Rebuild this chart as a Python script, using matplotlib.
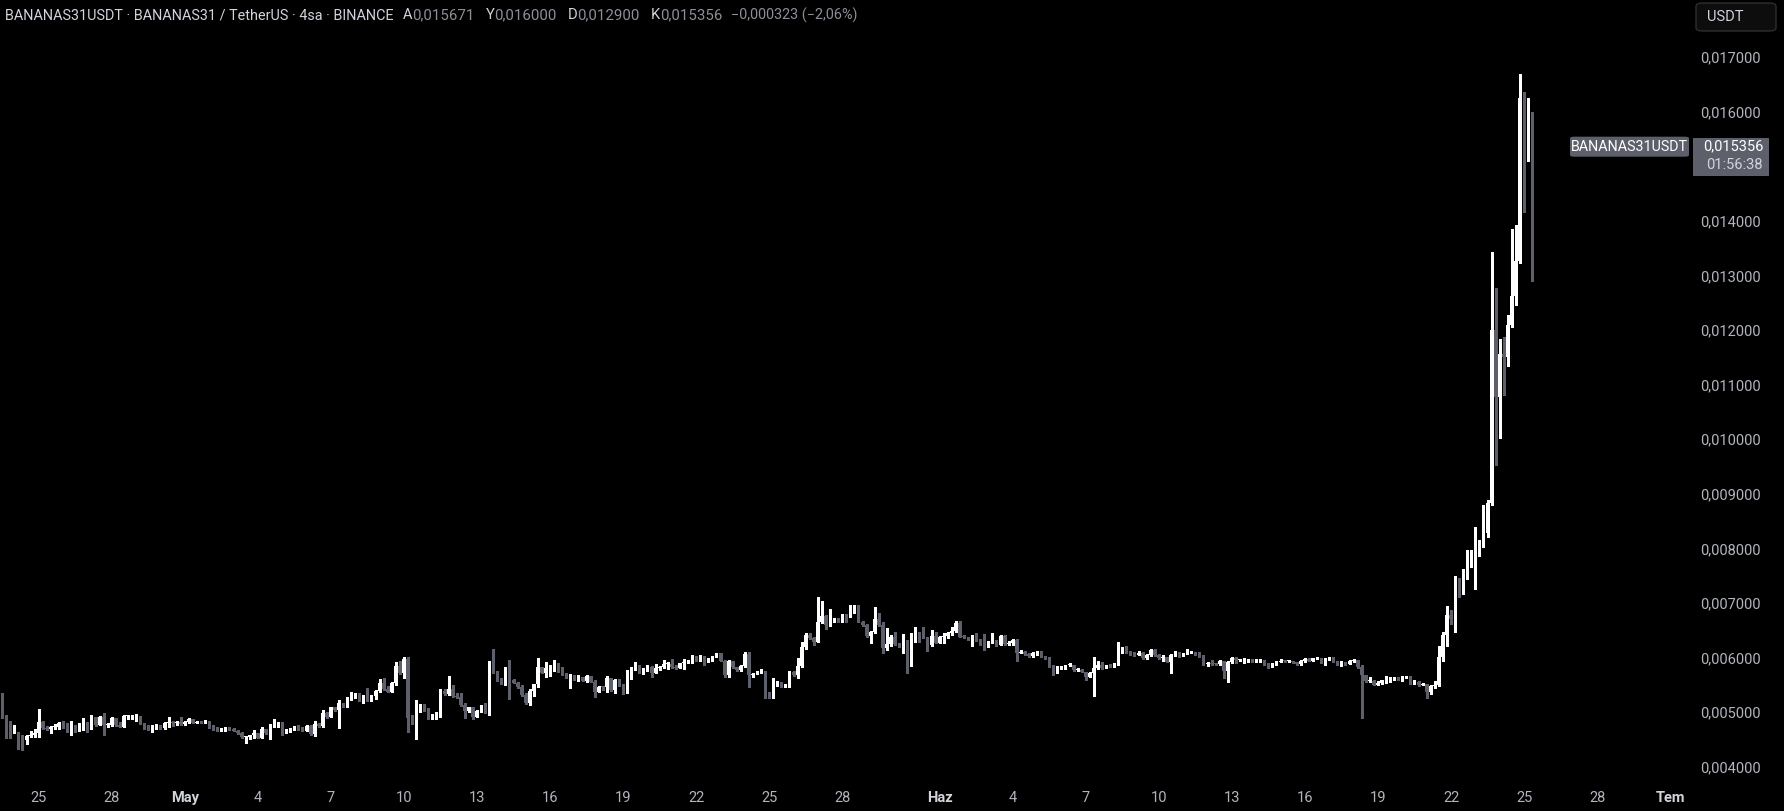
import numpy as np
import pandas as pd
import matplotlib
matplotlib.use("Agg")
import matplotlib.pyplot as plt
import matplotlib.dates as mdates
from matplotlib.patches import Rectangle, FancyBboxPatch

plt.rcParams['font.family'] = ['Roboto', 'DejaVu Sans']

# 4h candles, prices in millionths of USDT (4933 -> 0,004933)
start = "2025-04-23 12:00"
first_open = 5299

closes = [
    4933, 4830, 4628, 4628, 4543, 4494, 4567, 4585, 4628, 4817,
    4707, 4695, 4726, 4738, 4811, 4787, 4665, 4762, 4659, 4738,
    4811, 4707, 4909, 4768, 4909, 4768, 4768, 4890, 4768, 4738,
    4933, 4933, 4933, 4933, 4799, 4720, 4689, 4738, 4750, 4707,
    4811, 4811, 4799, 4830, 4781, 4830, 4872, 4811, 4830, 4823,
    4830, 4720, 4689, 4677, 4683, 4720, 4689, 4665, 4616, 4543,
    4543, 4585, 4616, 4537, 4689, 4616, 4768, 4787, 4799, 4616,
    4677, 4707, 4738, 4689, 4665, 4756, 4598, 4787, 4750, 4994,
    4921, 5092, 5043, 5165, 5116, 5275, 5318, 5348, 5226, 5257,
    5226, 5299, 5397, 5531, 5421, 5379, 5531, 5848, 5714, 5970,
    4890, 4799, 5043, 5134, 5043, 4890, 4909, 4970, 5397, 5336,
    5421,
    5299, 5275, 5134, 5031, 5092, 4921, 5031, 5116, 5104, 5885,
    5744, 5592, 5531, 5744, 5592, 5543, 5458, 5318, 5165, 5397,
    5513, 5824, 5726, 5806, 5836, 5836, 5806, 5702, 5641, 5677,
    5604, 5641, 5580, 5665, 5562, 5379, 5470, 5458, 5622, 5409,
    5592, 5500, 5348, 5622, 5793, 5848, 5726, 5806, 5836, 5714,
    5806, 5836, 5885, 5885, 5824, 5806, 5897, 5928, 5928, 6031,
    5946, 6031, 5946, 5958, 6019, 6080, 5946, 5684, 5946, 5824,
    5775, 5848, 6068, 5684, 5702, 5739, 5757, 5360, 5275, 5519,
    5562, 5470, 5482, 5744, 5684, 5848, 6190, 6416, 6355, 6294,
    6647, 6763, 6599, 6690, 6690, 6660, 6763, 6751, 6861, 6861,
    6660, 6599, 6397, 6477, 6708, 6599, 6172, 6251, 6373, 6251,
    6214,
    6312, 5909, 6312, 6458, 6397, 6367, 6233, 6397, 6275, 6385,
    6397, 6458, 6495, 6629, 6385, 6373, 6336, 6355, 6312, 6251,
    6214, 6294, 6312, 6233, 6397, 6251, 6263, 6324, 6092, 6110,
    6068, 6031, 6092, 6092, 6019, 5988, 5848, 5744, 5836, 5836,
    5860, 5867, 5775, 5775, 5744, 5641, 5726, 5806, 5867, 5806,
    5860, 5836, 5897, 6110, 6172, 6104, 6068, 6049, 6092, 5988,
    6049, 6141, 6049, 5988, 6007, 5928, 6049, 6110, 6031, 6080,
    6092, 6092, 6068, 6031, 5885, 5897, 5885, 5879, 5946, 5757,
    5928, 5988, 5958, 5958, 5958, 5970, 5928, 5946, 5946, 5885,
    5824, 5885, 5928, 5946, 5934, 5934, 5921, 5885, 5946, 5976,
    5946, 5988, 5988, 5909, 5976, 5982, 5928, 5885, 5909, 5885,
    5940,
    5952, 5829, 5675, 5567, 5567, 5505, 5544, 5583, 5606, 5621,
    5637, 5621, 5629, 5644, 5529, 5552, 5490, 5513, 5374, 5475,
    5490, 6014, 6415, 6785, 6708, 7293, 7185, 7478, 7786, 7878,
    7971, 8125, 8279, 8834, 12002, 10764, 11561, 11512, 12092, 12622,
    13263, 16241, 15357, 15671, 15356,
]

highs = [
    5348, 4951, 4848, 4768, 4646, 4585, 4585, 4659, 4695, 5061,
    4848, 4750, 4750, 4787, 4830, 4848, 4799, 4842, 4775, 4799,
    4890, 4830, 4951, 4909, 4933, 4982, 4811, 4909, 4890, 4823,
    4951, 4958, 4958, 4970, 4933, 4811, 4762, 4768, 4787, 4762,
    4823, 4909, 4848, 4842, 4915, 4848, 4890, 4884, 4848, 4836,
    4860, 4842, 4762, 4726, 4707, 4726, 4726, 4707, 4683, 4640,
    4567, 4592, 4677, 4622, 4738, 4701, 4787, 4878, 4830, 4823,
    4689, 4720, 4750, 4768, 4738, 4768, 4762, 4842, 4811, 5043,
    5006, 5104, 5104, 5226, 5177, 5287, 5379, 5360, 5360, 5318,
    5440, 5318, 5409, 5604, 5622, 5482, 5562, 5928, 5946, 6007,
    6007, 4951, 5226, 5153, 5147, 5086, 4964, 5000, 5421, 5421,
    5665,
    5500, 5360, 5360, 5165, 5104, 5104, 5043, 5128, 5177, 5946,
    6153, 5757, 5622, 5824, 5958, 5604, 5555, 5494, 5348, 5427,
    5525, 5988, 5836, 5928, 5867, 5958, 5909, 5824, 5726, 5702,
    5684, 5677, 5641, 5677, 5665, 5592, 5482, 5488, 5665, 5635,
    5604, 5604, 5519, 5775, 5836, 5921, 5860, 5818, 5867, 5848,
    5885, 5848, 5958, 5928, 5970, 5860, 5909, 5970, 5958, 6049,
    6031, 6049, 6031, 5988, 6031, 6092, 6080, 5958, 5958, 5946,
    5836, 5860, 6104, 6110, 5726, 5763, 5787, 5757, 5379, 5622,
    5580, 5562, 5519, 5757, 5757, 5988, 6294, 6458, 6458, 6385,
    7117, 7044, 6775, 6885, 6720, 6720, 6800, 6800, 6964, 6964,
    6964, 6672, 6611, 6489, 6922, 6824, 6660, 6538, 6416, 6477,
    6275,
    6434, 6324, 6458, 6568, 6470, 6568, 6385, 6507, 6477, 6397,
    6446, 6470, 6568, 6678, 6678, 6409, 6385, 6416, 6458, 6336,
    6434, 6306, 6458, 6324, 6409, 6409, 6312, 6336, 6336, 6141,
    6123, 6092, 6104, 6117, 6129, 6031, 6007, 5867, 5848, 5848,
    5873, 5909, 5873, 5812, 5787, 5744, 5739, 6019, 5946, 5928,
    5873, 5885, 5909, 6294, 6202, 6214, 6129, 6110, 6129, 6110,
    6062, 6153, 6153, 6068, 6049, 6019, 6062, 6123, 6110, 6092,
    6153, 6129, 6104, 6104, 6049, 5928, 5958, 5909, 5958, 5946,
    5940, 6007, 6007, 5982, 5988, 5982, 5976, 5976, 5970, 5958,
    5897, 5897, 5940, 5976, 5952, 5952, 5940, 5928, 5958, 5988,
    5988, 6001, 5995, 5995, 5988, 6007, 6019, 5940, 5934, 5921,
    5952,
    5975, 5960, 5867, 5675, 5644, 5583, 5567, 5590, 5667, 5637,
    5652, 5652, 5667, 5660, 5667, 5590, 5567, 5536, 5520, 5490,
    5567, 6222, 6468, 6938, 6877, 7494, 7466, 7632, 7979, 7979,
    8395, 8148, 8788, 8880, 13434, 12771, 11829, 11866, 12274, 13850,
    13924, 16687, 16363, 16241, 16000,
]

lows = [
    4890, 4524, 4524, 4616, 4329, 4311, 4421, 4543, 4543, 4555,
    4689, 4677, 4628, 4701, 4689, 4707, 4646, 4585, 4640, 4653,
    4677, 4634, 4695, 4750, 4762, 4585, 4738, 4750, 4750, 4726,
    4738, 4884, 4884, 4848, 4787, 4701, 4677, 4646, 4689, 4695,
    4695, 4726, 4750, 4762, 4768, 4768, 4811, 4799, 4799, 4805,
    4799, 4707, 4677, 4665, 4665, 4659, 4677, 4653, 4604, 4531,
    4433, 4512, 4531, 4524, 4524, 4604, 4506, 4726, 4738, 4592,
    4616, 4646, 4677, 4677, 4653, 4653, 4585, 4573, 4738, 4738,
    4890, 4909, 5031, 4720, 5104, 5104, 5226, 5263, 5214, 5165,
    5214, 5214, 5244, 5372, 5409, 5366, 5379, 5507, 5702, 5622,
    4646, 4787, 4506, 5012, 5031, 4878, 4872, 4872, 4921, 5324,
    5324,
    5287, 5257, 5122, 4903, 5006, 4878, 4921, 5006, 4994, 4951,
    5714, 5580, 5519, 5500, 5244, 5531, 5446, 5305, 5153, 5141,
    5299, 5470, 5714, 5641, 5665, 5757, 5732, 5690, 5629, 5440,
    5592, 5580, 5568, 5555, 5549, 5287, 5366, 5409, 5379, 5397,
    5360, 5488, 5336, 5348, 5604, 5775, 5714, 5702, 5751, 5653,
    5714, 5775, 5818, 5799, 5812, 5793, 5806, 5799, 5897, 5909,
    5934, 5946, 5867, 5928, 5946, 6007, 5934, 5641, 5641, 5812,
    5763, 5763, 5836, 5458, 5653, 5702, 5714, 5257, 5263, 5257,
    5488, 5458, 5458, 5470, 5671, 5629, 5824, 6153, 6342, 6232,
    6281, 6629, 6519, 6586, 6660, 6647, 6647, 6660, 6739, 6812,
    6647, 6586, 6385, 6263, 6458, 6586, 6080, 6141, 6220, 6239,
    6202,
    6092, 5726, 5848, 6294, 6294, 6355, 6129, 6220, 6263, 6263,
    6275, 6361, 6422, 6464, 6373, 6361, 6324, 6214, 6300, 6239,
    6141, 6202, 6263, 6220, 6227, 6239, 6233, 6239, 5946, 6080,
    6056, 6019, 6019, 6056, 6007, 5976, 5836, 5684, 5714, 5799,
    5799, 5848, 5763, 5763, 5732, 5592, 5641, 5299, 5787, 5793,
    5806, 5824, 5824, 5860, 6080, 6092, 6056, 6037, 6043, 5976,
    5976, 6037, 6037, 5976, 5946, 5915, 5726, 6031, 6019, 6031,
    6068, 6080, 6056, 6019, 5873, 5848, 5873, 5873, 5860, 5623,
    5562, 5897, 5909, 5934, 5909, 5921, 5921, 5921, 5928, 5873,
    5812, 5824, 5873, 5921, 5915, 5915, 5903, 5873, 5873, 5921,
    5934, 5940, 5982, 5897, 5867, 5958, 5915, 5873, 5848, 5873,
    5885,
    5929, 5814, 4890, 5551, 5551, 5490, 5498, 5521, 5544, 5551,
    5598, 5590, 5567, 5622, 5513, 5521, 5475, 5490, 5259, 5336,
    5452, 5475, 5937, 6222, 6607, 6476, 7108, 7170, 7432, 7663,
    7262, 7863, 8031, 8203, 8790, 9530, 10030, 10810, 11341, 12049,
    12457, 13234, 14168, 15101, 12900,
]

# 0,015000 sits under the last-price tag, so it is not listed
price_ticks = [0.004, 0.005, 0.006, 0.007, 0.008, 0.009, 0.010, 0.011,
               0.012, 0.013, 0.014, 0.016, 0.017]
date_ticks = ["2025-04-25", "2025-04-28", "2025-05-01", "2025-05-04", "2025-05-07",
              "2025-05-10", "2025-05-13", "2025-05-16", "2025-05-19", "2025-05-22",
              "2025-05-25", "2025-05-28", "2025-06-01", "2025-06-04", "2025-06-07",
              "2025-06-10", "2025-06-13", "2025-06-16", "2025-06-19", "2025-06-22",
              "2025-06-25", "2025-06-28", "2025-07-01"]
date_labels = ["25", "28", "May", "4", "7", "10", "13", "16", "19", "22", "25", "28",
               "Haz", "4", "7", "10", "13", "16", "19", "22", "25", "28", "Tem"]
month_labels = {"May", "Haz", "Tem"}

# (text, tone, font size, gap after in px)
header = [("BANANAS31USDT · BANANAS31 / TetherUS · 4sa · BINANCE", "light", 10.4, 9),
          ("A", "light", 10.6, 0), ("0,015671", "dim", 10.8, 11),
          ("Y", "light", 10.6, 0), ("0,016000", "dim", 10.8, 11),
          ("D", "light", 10.6, 0), ("0,012900", "dim", 10.8, 11),
          ("K", "light", 10.6, 0), ("0,015356", "dim", 10.8, 9),
          ("−0,000323 (−2,06%)", "dim", 10.4, 0)]
symbol = "BANANAS31USDT"
countdown = "01:56:38"
quote = "USDT"

UP = "#ffffff"
DOWN = "#5d606b"
LIGHT = "#d1d4dc"
DIM = "#8c8f98"
TICK = "#b2b5be"

W, H = 1784, 811

c = np.array(closes) / 1e6
hi = np.array(highs) / 1e6
lo = np.array(lows) / 1e6
o = np.r_[first_open / 1e6, c[:-1]]
hi = np.maximum(hi, np.maximum(o, c))
lo = np.minimum(lo, np.minimum(o, c))
t = mdates.date2num(pd.date_range(start, periods=len(c), freq="4h"))
col = np.where(c >= o, UP, DOWN)

fig = plt.figure(figsize=(W / 100, H / 100), dpi=100, facecolor="black")
ax = fig.add_axes([0, 28 / H, 1692 / W, 783 / H])
ax.set_facecolor("black")
for s in ax.spines.values():
    s.set_visible(False)

ax.vlines(t, lo, hi, colors=col, linewidth=0.75, antialiased=False)
body = np.maximum(np.abs(c - o), 1.9e-5)
ax.bar(t, body, bottom=np.minimum(o, c), width=0.125, color=col,
       linewidth=0, antialiased=False)

# 24.35 px per day, 25 Apr at x=38.7 px
day0 = mdates.date2num(pd.Timestamp("2025-04-25"))
x0 = day0 - 38.7 / 24.35
ax.set_xlim(x0, x0 + 1692 / 24.35)
ax.set_ylim(0.0037045, 0.018042)

ax.yaxis.tick_right()
ax.set_yticks(price_ticks)
ax.set_yticklabels([f"{p:.6f}".replace(".", ",") for p in price_ticks])
ax.tick_params(axis="y", length=0, pad=49.5, labelsize=10.5, labelcolor=TICK)
for lb in ax.get_yticklabels():
    lb.set_ha("right")

ax.set_xticks(mdates.date2num(pd.to_datetime(date_ticks)))
ax.set_xticklabels(date_labels)
ax.tick_params(axis="x", length=0, pad=6, labelsize=10.5, labelcolor=TICK)
for lb in ax.get_xticklabels():
    if lb.get_text() in month_labels:
        lb.set_fontweight("bold")
        lb.set_color(LIGHT)

# header line
r = fig.canvas.get_renderer()
x = 5
for txt, tone, fs, gap in header:
    tt = fig.text(x / W, 1 - 15 / H, txt, va="center", ha="left", fontsize=fs,
                  color=LIGHT if tone == "light" else DIM)
    x = tt.get_window_extent(r).x1 + gap

# currency button
fig.add_artist(FancyBboxPatch((1696 / W, 1 - 31 / H), 80 / W, 28 / H,
                              boxstyle="round,pad=0,rounding_size=0.004",
                              transform=fig.transFigure, facecolor="#0d0d0d",
                              edgecolor="#2f2f2f", linewidth=1))
fig.text(1707 / W, 1 - 17 / H, quote, va="center", ha="left", fontsize=10.5, color=LIGHT)

# last price labels
yp = H - ax.transData.transform((t[-1], c[-1]))[1]
fig.add_artist(FancyBboxPatch((1570 / W, 1 - (yp + 10) / H), 119 / W, 20 / H,
                              boxstyle="round,pad=0,rounding_size=0.002",
                              transform=fig.transFigure, facecolor=DOWN, linewidth=0))
fig.text(1629 / W, 1 - yp / H, symbol, va="center", ha="center", fontsize=10.3, color=UP)
fig.add_artist(Rectangle((1693 / W, 1 - (yp + 29) / H), 76 / W, 38 / H,
                         transform=fig.transFigure, facecolor=DOWN, linewidth=0))
fig.text(1763 / W, 1 - yp / H, f"{c[-1]:.6f}".replace(".", ","), va="center",
         ha="right", fontsize=10.5, color=UP)
fig.text(1763 / W, 1 - (yp + 18) / H, countdown, va="center", ha="right",
         fontsize=10.5, color=LIGHT)

fig.savefig("out.png", dpi=100, facecolor="black")
